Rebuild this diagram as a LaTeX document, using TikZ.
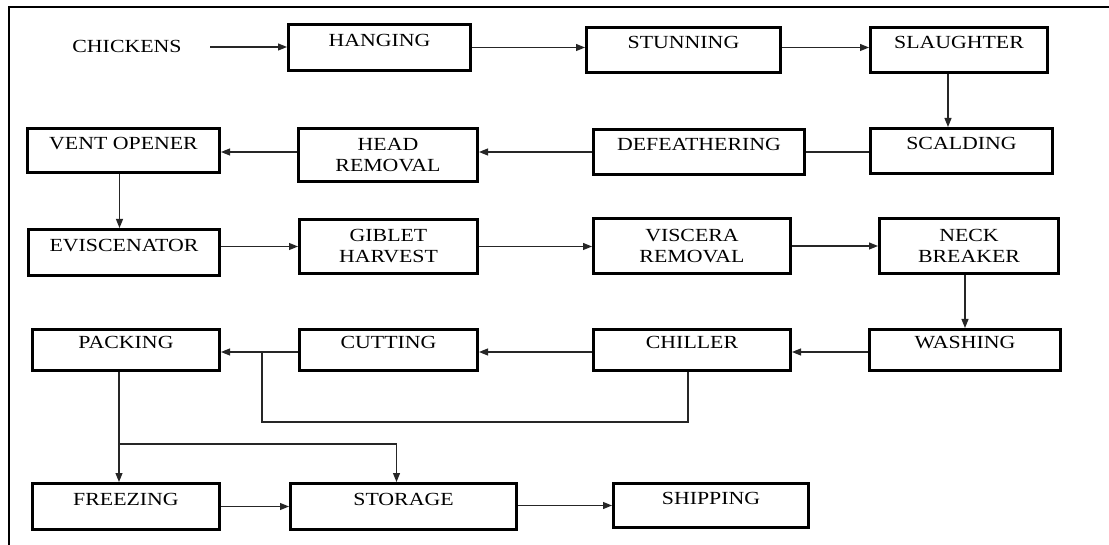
\documentclass[tikz,border=0pt]{standalone}
\usepackage{fontspec}
\setmainfont{Liberation Serif}[FakeStretch=1.18]
\usetikzlibrary{arrows.meta}
\begin{document}
\begin{tikzpicture}[x=1pt,y=-1pt,
  box/.style={draw=black, line width=3pt, inner sep=0pt, align=center,
    font=\fontsize{18.5}{21}\selectfont},
  onebox/.style={box, text height=1pt, text depth=3pt},
  arr/.style={line width=1.1pt, draw=black!85, -{Triangle[length=9pt,width=7pt]}},
  ln/.style={line width=1.1pt, draw=black!85}]
\useasboundingbox (0,0) rectangle (1109,545);
\fill[white] (0,0) rectangle (1109,545);
\draw[line width=2pt] (9,545) -- (9,7) -- (1109,7);

\node[font=\fontsize{18.5}{21}\selectfont] (chick) at (127,46) {CHICKENS};
\node[onebox, minimum width=182pt, minimum height=46pt] (hang) at (379.5,47.5) {HANGING};
\node[onebox, minimum width=194pt, minimum height=45pt] (stun) at (683.5,50) {STUNNING};
\node[onebox, minimum width=177pt, minimum height=45pt] (slau) at (959,50) {SLAUGHTER};

\node[onebox, minimum width=192pt, minimum height=44pt] (vent) at (123.5,150.5) {VENT OPENER};
\node[box, minimum width=179pt, minimum height=53pt] (head) at (388,155) {HEAD\\REMOVAL};
\node[onebox, minimum width=211pt, minimum height=45pt] (defe) at (699,152) {DEFEATHERING};
\node[onebox, minimum width=182pt, minimum height=45pt] (scal) at (961.5,151) {SCALDING};

\node[onebox, minimum width=191pt, minimum height=46pt] (evis) at (124,252.5) {EVISCENATOR};
\node[box, minimum width=178pt, minimum height=54pt] (gibl) at (388.5,246.5) {GIBLET\\HARVEST};
\node[box, minimum width=197pt, minimum height=55pt] (visc) at (692,246) {VISCERA\\REMOVAL};
\node[box, minimum width=179pt, minimum height=55pt] (neck) at (969,246) {NECK\\BREAKER};

\node[onebox, minimum width=191pt, minimum height=41pt] (wash) at (965,350) {WASHING};
\node[onebox, minimum width=197pt, minimum height=41pt] (chil) at (692,350) {CHILLER};
\node[onebox, minimum width=178pt, minimum height=41pt] (cutt) at (388.5,350) {CUTTING};
\node[onebox, minimum width=187pt, minimum height=41pt] (pack) at (126,350) {PACKING};

\node[onebox, minimum width=187pt, minimum height=46pt] (free) at (126,506.5) {FREEZING};
\node[onebox, minimum width=226pt, minimum height=46pt] (stor) at (403.5,506.5) {STORAGE};
\node[onebox, minimum width=195pt, minimum height=44pt] (ship) at (711,505.5) {SHIPPING};

\coordinate (c0) at (210,47);
\coordinate (j1) at (262,352);
\coordinate (j2) at (119,444);

% row 1
\draw[arr] (c0) -- (c0 -| hang.west);
\draw[arr] (hang.east) -- (hang.east -| stun.west);
\draw[arr] (stun.east |- hang.east) -- (slau.west |- hang.east);
\draw[arr] ([xshift=-11pt]slau.south) -- ([xshift=-11pt]slau.south |- scal.north);
% row 2
\draw[ln] (scal.west |- defe.west) -- (defe.east);
\draw[arr] (defe.west) -- (defe.west -| head.east);
\draw[arr] (head.west |- defe.west) -- (vent.east |- defe.west);
\draw[arr] ([xshift=-4pt]vent.south) -- ([xshift=-4pt]vent.south |- evis.north);
% row 3
\draw[arr] (evis.east |- gibl.west) -- (gibl.west);
\draw[arr] (gibl.east) -- (gibl.east -| visc.west);
\draw[arr] (visc.east) -- (visc.east -| neck.west);
\draw[arr] (wash.north |- neck.south) -- (wash.north);
% row 4
\draw[arr] (wash.west |- j1) -- (chil.east |- j1);
\draw[arr] (chil.west |- j1) -- (cutt.east |- j1);
\draw[arr] (cutt.west |- j1) -- (pack.east |- j1);
\draw[ln] ([xshift=-4pt]chil.south) -- ++(0,50) -| (j1);
% row 5
\draw[arr] (j2 |- pack.south) -- (j2 |- free.north);
\draw[arr] (j2) -| ([xshift=-7pt]stor.north);
\draw[arr] (free.east) -- (free.east -| stor.west);
\draw[arr] (stor.east |- ship.west) -- (ship.west);
\end{tikzpicture}
\end{document}
